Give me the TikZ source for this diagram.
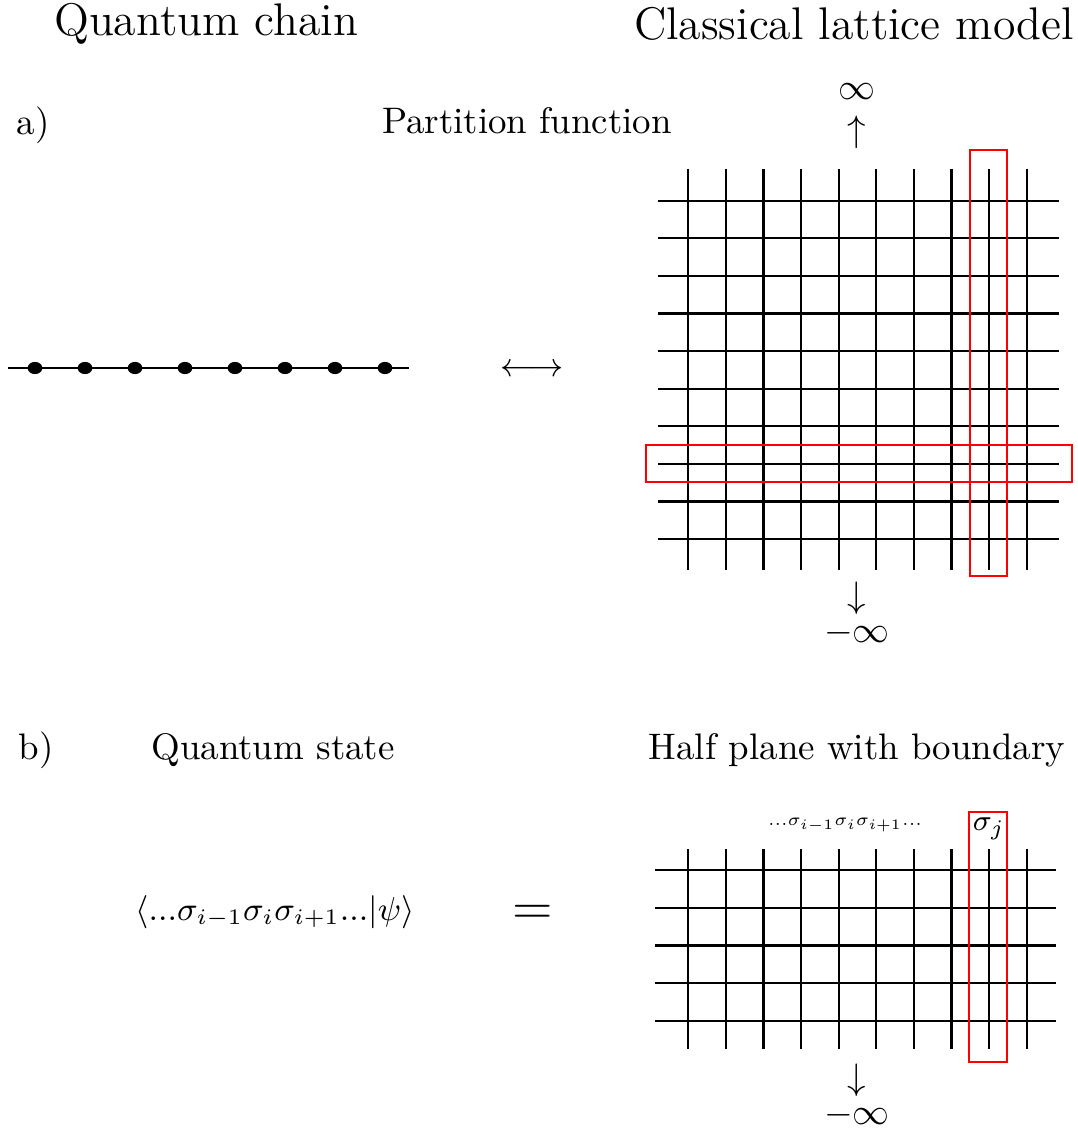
\documentclass[tikz,border=0pt]{standalone}
\usepackage{amsmath}
\usepackage{graphicx}
\begin{document}
\begin{tikzpicture}[x=0.271pt,y=-0.271pt,
  gridline/.style={line width=0.6pt,black},
  redbox/.style={draw=red,line width=0.5pt},
  head/.style={font=\fontsize{12.4}{14}\selectfont,inner sep=0pt},
  lab/.style={font=\normalsize,inner sep=0pt}]
\useasboundingbox (0,0) rectangle (1078,1141);
% headers
\node[head] (qc) at (206,24) {Quantum chain};
\node[head] (clm) at (854,24) {Classical lattice model};
% part a
\node[lab] (a) at (33,125) {a)};
\node[lab] (pf) at (527,121) {Partition function};
\node[lab] (inf) at (857,92) {$\infty$};
\node[lab] (up) at (857,132) {$\uparrow$};
\node[lab] (dn) at (857,598) {$\downarrow$};
\node[lab] (minf) at (857,633) {$-\infty$};
\node[inner sep=0pt,font=\fontsize{8.8}{10}\selectfont] (lr) at (532,370) {$\longleftrightarrow$};
% chain
\coordinate (cl) at (8,368);
\coordinate (cr) at (409,368);
\draw[line width=0.6pt] (cl) -- (cr);
\foreach \i in {0,...,7}{
  \fill (35+50*\i,368) ellipse[x radius=2pt,y radius=1.65pt];
}
% top lattice
\foreach \i in {0,...,9}{
  \draw[gridline] (688.3+37.6*\i,169) -- (688.3+37.6*\i,570);
  \draw[gridline] (658,200.7+37.6*\i) -- (1059,200.7+37.6*\i);
}
\draw[redbox] (969.7,149.7) rectangle (1007,575.7);
\draw[redbox] (645.7,444.7) rectangle (1071.7,481.7);
% part b
\node[lab] (b) at (36,750) {b)};
\node[lab] (qs) at (273,750) {Quantum state};
\node[lab] (hp) at (857,750) {Half plane with boundary};
\node[inner sep=0pt,font=\fontsize{8.9}{10}\selectfont] (bra) at (275,912) {$\langle ...\sigma_{i-1}\sigma_i\sigma_{i+1}...|\psi\rangle$};
\node[inner sep=0pt,font=\fontsize{14}{16}\selectfont] (eq) at (533,915) {$=$};
\node[inner sep=0pt,font=\fontsize{5.9}{7}\selectfont] (seq) at (845,825) {\scalebox{0.78}{$...\sigma_{i-1}\sigma_i\sigma_{i+1}...$}};
\node[inner sep=0pt,font=\fontsize{8.5}{10}\selectfont] (sj) at (989,829) {$\sigma_j$};
\node[lab] (dn2) at (857,1080) {$\downarrow$};
\node[lab] (minf2) at (857,1115) {$-\infty$};
% bottom lattice
\foreach \i in {0,...,9}{
  \draw[gridline] (688.3+37.6*\i,849.3) -- (688.3+37.6*\i,1049);
}
\foreach \i in {0,...,4}{
  \draw[gridline] (655.3,870.3+37.6*\i) -- (1056.3,870.3+37.6*\i);
}
\draw[redbox] (969.3,812) rectangle (1007,1062.3);
\end{tikzpicture}
\end{document}
